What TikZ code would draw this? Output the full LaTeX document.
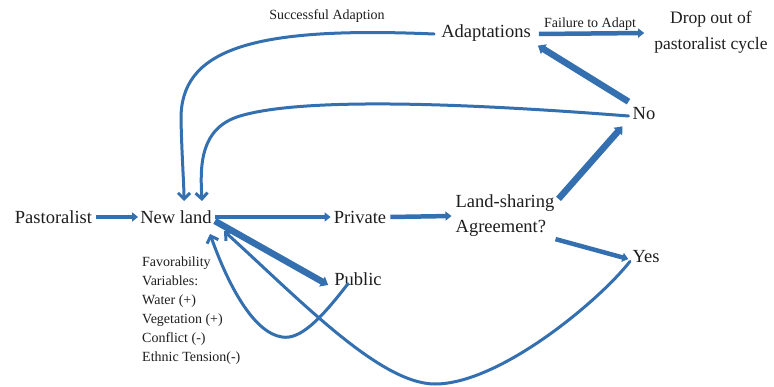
\documentclass[tikz,border=0pt]{standalone}
\usepackage{fontspec}
\setmainfont{Liberation Serif}
\usetikzlibrary{arrows.meta}
\definecolor{arrowblue}{RGB}{52,112,176}
\definecolor{txt}{RGB}{30,30,30}
\tikzset{
  lbl/.style={inner sep=0pt, text=txt, font=\fontsize{18.5}{25}\selectfont, align=left},
  small/.style={inner sep=0pt, text=txt, font=\fontsize{14}{19}\selectfont, align=left},
  medarrow/.style={draw=arrowblue, line width=4.5pt, -{Triangle[length=6pt,width=9pt]}},
  thickarrow/.style={draw=arrowblue, line width=6.5pt, -{Triangle[length=7pt,width=11pt]}},
  curvearrow/.style={draw=arrowblue, line width=3pt, line cap=round, -{Straight Barb[length=6pt,width=12pt]}}
}
\begin{document}
\begin{tikzpicture}[x=1pt,y=-1pt]
\useasboundingbox (0,0) rectangle (774,387);
\fill[white] (0,0) rectangle (774,387);
% nodes
\node[lbl] (past) at (53.5,217) {Pastoralist};
\node[lbl] (newland) at (176,217) {New land};
\node[lbl] (private) at (360,217) {Private};
\node[lbl] (public) at (358,279) {Public};
\node[lbl] (share) at (505,216) {Land-sharing\\Agreement?};
\node[lbl] (no) at (644,114) {No};
\node[lbl] (yes) at (646,257) {Yes};
\node[lbl] (adapt) at (486,33) {Adaptations};
\node[lbl, align=center, font=\fontsize{17.5}{26}\selectfont] (drop) at (711,32) {Drop out of\\pastoralist cycle};
\node[small, anchor=north west] (fav) at (142,257) {Favorability\\Variables:\\Water (+)\\Vegetation (+)\\Conflict (-)\\Ethnic Tension(-)};
\node[small] (succ) at (327,16) {Successful Adaption};
\node[small] (fail) at (590,24) {Failure to Adapt};
% named end points
\coordinate (nlTopA) at (184,201);
\coordinate (nlTopB) at (202,201);
\coordinate (nlBotA) at (210,234);
\coordinate (nlBotB) at (224,231);
% straight connectors
\draw[medarrow] ([xshift=4pt]past.east) -- ([xshift=-2pt]newland.west);
\draw[medarrow] ([xshift=3pt]newland.east) -- ([xshift=-3pt]private.west);
\draw[medarrow] ([xshift=4pt]private.east) -- ([xshift=-4pt]share.west);
\draw[thickarrow] ([xshift=3pt,yshift=-4pt]newland.east) -- ([xshift=-6pt,yshift=-6pt]public.west);
\draw[thickarrow] ([xshift=4pt,yshift=-4pt]share.north east) -- ([xshift=-10pt,yshift=-6pt]no.south west);
\draw[medarrow] ([xshift=1pt,yshift=-2pt]share.south east) -- ([xshift=-4pt,yshift=-2pt]yes.west);
\draw[thickarrow] ([xshift=-4pt,yshift=6pt]no.north west) -- ([xshift=7pt,yshift=-4pt]adapt.south east);
\draw[medarrow] ([xshift=8pt,yshift=-1pt]adapt.east) -- ([xshift=-10pt]drop.west |- adapt.east);
% curved connectors
\draw[curvearrow] ([xshift=-7pt,yshift=-1pt]adapt.west) .. controls (250,26) and (180,50) .. (181,120)
   .. controls (182,160) and (184,185) .. (nlTopA);
\draw[curvearrow] ([xshift=-4pt,yshift=-2pt]no.west) .. controls (450,102) and (300,98) .. (240,116)
   .. controls (200,128) and (200,165) .. (nlTopB);
\draw[curvearrow] ([xshift=-10pt,yshift=2pt]public.south) .. controls (320,320) and (300,340) .. (282,337)
   .. controls (255,333) and (230,290) .. (nlBotA);
\draw[curvearrow] ([xshift=-16pt,yshift=2pt]yes.south) .. controls (600,300) and (500,384) .. (435,384)
   .. controls (380,384) and (300,300) .. (nlBotB);
\end{tikzpicture}
\end{document}
